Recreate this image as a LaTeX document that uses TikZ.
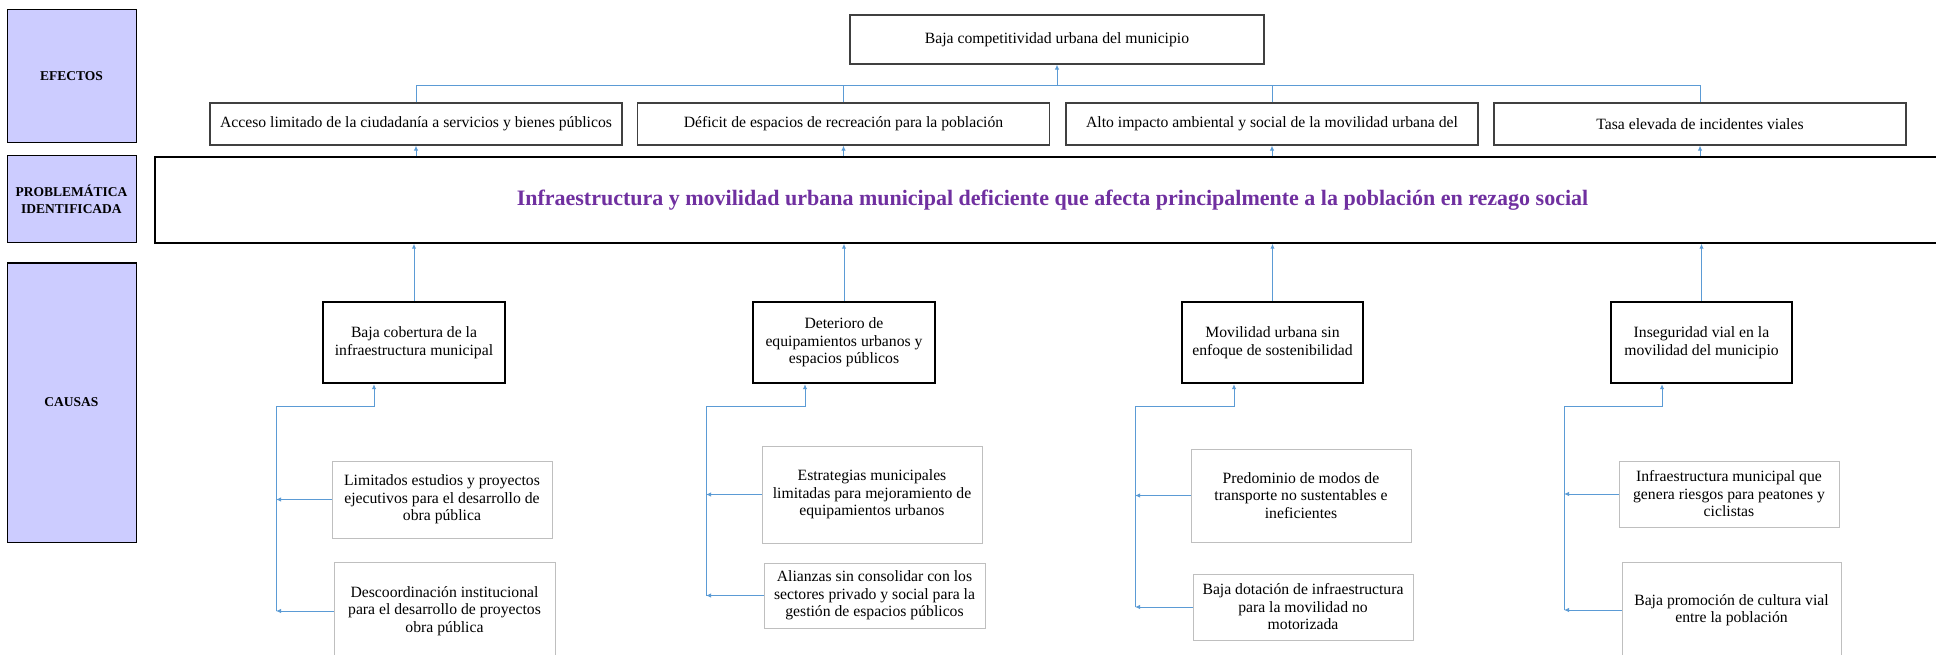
\documentclass[tikz,border=0pt]{standalone}
\usepackage{fontspec}
\setmainfont{Liberation Serif}
\usetikzlibrary{arrows.meta}
\definecolor{lav}{HTML}{CCCCFF}
\definecolor{conn}{HTML}{5B9BD5}
\definecolor{purp}{HTML}{7030A0}
\definecolor{subgray}{HTML}{BFBFBF}
\definecolor{effgray}{HTML}{404040}
\begin{document}
\begin{tikzpicture}[x=1pt,y=-1pt,
 lbl/.style={draw=black,line width=1pt,fill=lav,inner sep=0pt,minimum width=129pt,align=center,font=\fontsize{13.5}{17}\selectfont\bfseries},
 effbox/.style={draw=effgray,line width=1.3pt,minimum width=412pt,minimum height=42pt,inner sep=0pt,font=\fontsize{15.7}{17.5}\selectfont},
 causebox/.style={draw=black,line width=2.4pt,minimum width=181pt,minimum height=81pt,inner sep=0pt,align=center,font=\fontsize{15.7}{17.5}\selectfont},
 subbox/.style={draw=subgray,line width=1pt,minimum width=220pt,inner sep=0pt,align=center,font=\fontsize{15.7}{17.5}\selectfont},
 conline/.style={draw=conn,line width=1pt},
 conarrow/.style={conline,-{Latex[length=5pt,width=4.5pt]}},
]
\useasboundingbox (0,0) rectangle (1936,655);
\clip (0,0) rectangle (1936,655);
\fill[white] (0,0) rectangle (1936,655);

% left labels
\node[lbl,minimum height=133pt] (l1) at (71.5,76.5) {EFECTOS};
\node[lbl,minimum height=87pt] (l2) at (71.5,199.5) {PROBLEMÁTICA\\IDENTIFICADA};
\node[lbl,minimum height=279pt] (l3) at (71.5,402.5) {CAUSAS};

% top effect
\node[effbox,minimum width=414pt,minimum height=49pt] (top) at (1057,39.5) {Baja competitividad urbana del municipio};

% effects
\node[effbox] (e1) at (416,124) {Acceso limitado de la ciudadanía a servicios y bienes públicos};
\node[effbox] (e2) at (843.5,124) {Déficit de espacios de recreación para la población};
\node[effbox] (e3) at (1272,124) {Alto impacto ambiental y social de la movilidad urbana del};
\node[effbox] (e4) at (1700,124) {Tasa elevada de incidentes viales};

% problem
\node[draw=black,line width=1.5pt,minimum width=1795pt,minimum height=86pt,inner sep=0pt,
  text=purp,font=\fontsize{22}{26}\selectfont\bfseries] (prob) at (1052.5,200)
  {Infraestructura y movilidad urbana municipal deficiente que afecta principalmente a la población en rezago social};

% causes
\node[causebox,minimum width=182pt] (c1) at (414,342.5) {Baja cobertura de la\\infraestructura municipal};
\node[causebox,minimum width=182pt] (c2) at (844,342.5) {Deterioro de\\equipamientos urbanos y\\espacios públicos};
\node[causebox] (c3) at (1272.5,342.5) {Movilidad urbana sin\\enfoque de sostenibilidad};
\node[causebox] (c4) at (1701.5,342.5) {Inseguridad vial en la\\movilidad del municipio};

% sub causes
\node[subbox,minimum height=77pt] (s11) at (442,499.5) {Limitados estudios y proyectos\\ejecutivos para el desarrollo de\\obra pública};
\node[subbox,minimum width=221pt,minimum height=98pt] (s12) at (444.5,611) {Descoordinación institucional\\para el desarrollo de proyectos\\obra pública};
\node[subbox,minimum height=97pt] (s21) at (872,494.5) {Estrategias municipales\\limitadas para mejoramiento de\\equipamientos urbanos};
\node[subbox,minimum width=221pt,minimum height=65pt] (s22) at (874.5,595.5) {Alianzas sin consolidar con los\\sectores privado y social para la\\gestión de espacios públicos};
\node[subbox,minimum height=93pt] (s31) at (1301,495.5) {Predominio de modos de\\transporte no sustentables e\\ineficientes};
\node[subbox,minimum height=66pt] (s32) at (1303,607) {Baja dotación de infraestructura\\para la movilidad no\\motorizada};
\node[subbox,minimum height=66pt] (s41) at (1729,494) {Infraestructura municipal que\\genera riesgos para peatones y\\ciclistas};
\node[subbox,minimum width=219pt,minimum height=96pt] (s42) at (1731.5,610) {Baja promoción de cultura vial\\entre la población};

% effects bus
\coordinate (bus) at (0,86);
\draw[conline] (e1.north) -- (e1.north |- bus) -- (e4.north |- bus) -- (e4.north);
\draw[conline] (e2.north) -- (e2.north |- bus);
\draw[conline] (e3.north) -- (e3.north |- bus);
\draw[conarrow] (top.south |- bus) -- (top.south);

% problem -> effects
\foreach \e in {e1,e2,e3,e4}{
  \draw[conarrow] (\e.south |- prob.north) -- (\e.south);
}
% causes -> problem
\foreach \c in {c1,c2,c3,c4}{
  \draw[conarrow] (\c.north) -- (\c.north |- prob.south);
}

% cause groups
\coordinate (g1) at (276,406);  \coordinate (g1t) at (374,406);
\coordinate (g2) at (706,406);  \coordinate (g2t) at (805,406);
\coordinate (g3) at (1135,406); \coordinate (g3t) at (1234,406);
\coordinate (g4) at (1564,406); \coordinate (g4t) at (1662,406);

\draw[conarrow] (s12.west -| g1) -- (g1) -- (g1t) -- (g1t |- c1.south);
\draw[conarrow] (s22.west -| g2) -- (g2) -- (g2t) -- (g2t |- c2.south);
\draw[conarrow] (s32.west -| g3) -- (g3) -- (g3t) -- (g3t |- c3.south);
\draw[conarrow] (s42.west -| g4) -- (g4) -- (g4t) -- (g4t |- c4.south);

\draw[conarrow] (s11.west) -- (s11.west -| g1);
\draw[conarrow] (s12.west) -- (s12.west -| g1);
\draw[conarrow] (s21.west) -- (s21.west -| g2);
\draw[conarrow] (s22.west) -- (s22.west -| g2);
\draw[conarrow] (s31.west) -- (s31.west -| g3);
\draw[conarrow] (s32.west) -- (s32.west -| g3);
\draw[conarrow] (s41.west) -- (s41.west -| g4);
\draw[conarrow] (s42.west) -- (s42.west -| g4);
\end{tikzpicture}
\end{document}
